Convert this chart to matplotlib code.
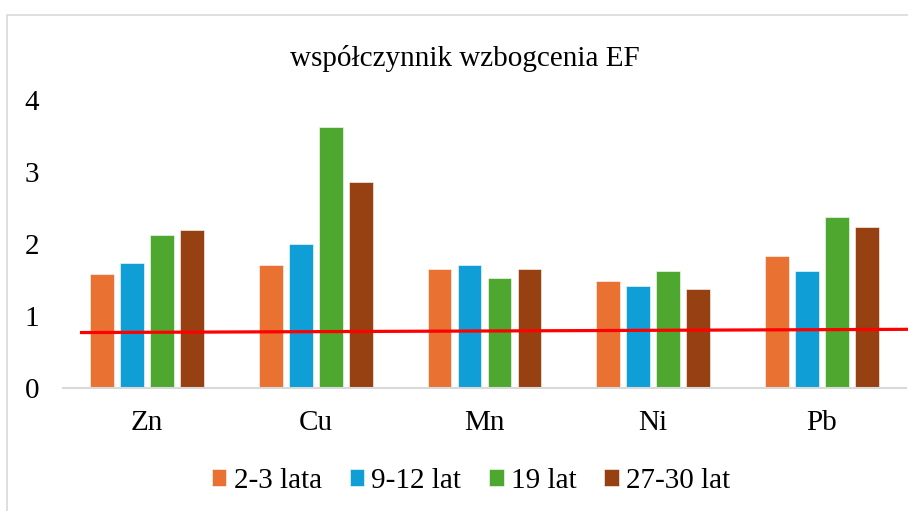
import matplotlib.pyplot as plt
import numpy as np
from matplotlib.patches import Rectangle

# chart values
elements = ['Zn', 'Cu', 'Mn', 'Ni', 'Pb']
series_names = ['2-3 lata', '9-12 lat', '19 lat', '27-30 lat']
ef_2_3 = [1.59, 1.71, 1.65, 1.48, 1.83]
ef_9_12 = [1.74, 2.00, 1.71, 1.41, 1.62]
ef_19 = [2.13, 3.63, 1.53, 1.63, 2.37]
ef_27_30 = [2.20, 2.86, 1.65, 1.38, 2.24]
threshold_x = [-0.39, 4.51]
threshold_y = [0.77, 0.815]
yticks = [0, 1, 2, 3, 4]

colors = ['#E97132', '#0F9ED5', '#4EA72E', '#974011']

plt.rcParams['font.family'] = ['Liberation Serif', 'DejaVu Serif']
FS = 21

W, H = 908, 511
fig = plt.figure(figsize=(W / 100, H / 100), dpi=100)
ax = fig.add_axes([63 / W, 1 - 388 / H, (906 - 63) / W, (388 - 100) / H])

# outer chart border (cropped at right and bottom in the reference)
fig.patches.append(Rectangle((7 / W, -0.1), 1.2, 1 - 15 / H + 0.1,
                             transform=fig.transFigure, fill=False,
                             edgecolor='#d9d9d9', linewidth=1.2))

x = np.arange(len(elements))
width = 0.142
step = 0.178
all_series = [ef_2_3, ef_9_12, ef_19, ef_27_30]
for i, (vals, name, c) in enumerate(zip(all_series, series_names, colors)):
    ax.bar(x + (i - 1.5) * step, vals, width, color=c, label=name,
           edgecolor='white', linewidth=0.4)

ax.plot(threshold_x, threshold_y, color='#FF0000', linewidth=2.3, clip_on=False, zorder=5)

ax.set_xlim(-0.5, 4.5)
ax.set_ylim(0, 4)
ax.set_xticks(x)
ax.set_xticklabels(elements)
ax.set_yticks(yticks)
ax.tick_params(axis='both', length=0, labelsize=FS)
ax.tick_params(axis='y', pad=17)
ax.tick_params(axis='x', pad=16)
for s in ['top', 'right', 'left']:
    ax.spines[s].set_visible(False)
ax.spines['bottom'].set_color('#d9d9d9')
ax.spines['bottom'].set_linewidth(1.5)

fig.text(465 / W, 1 - 58 / H, 'współczynnik wzbogcenia EF', ha='center', va='center', fontsize=FS)

fig.legend(loc='center', bbox_to_anchor=(471 / W, 1 - 481 / H), ncol=4, frameon=False,
           fontsize=FS, handlelength=0.5, handleheight=0.5, handletextpad=0.25,
           columnspacing=0.95)

fig.savefig('out.png', dpi=100)
